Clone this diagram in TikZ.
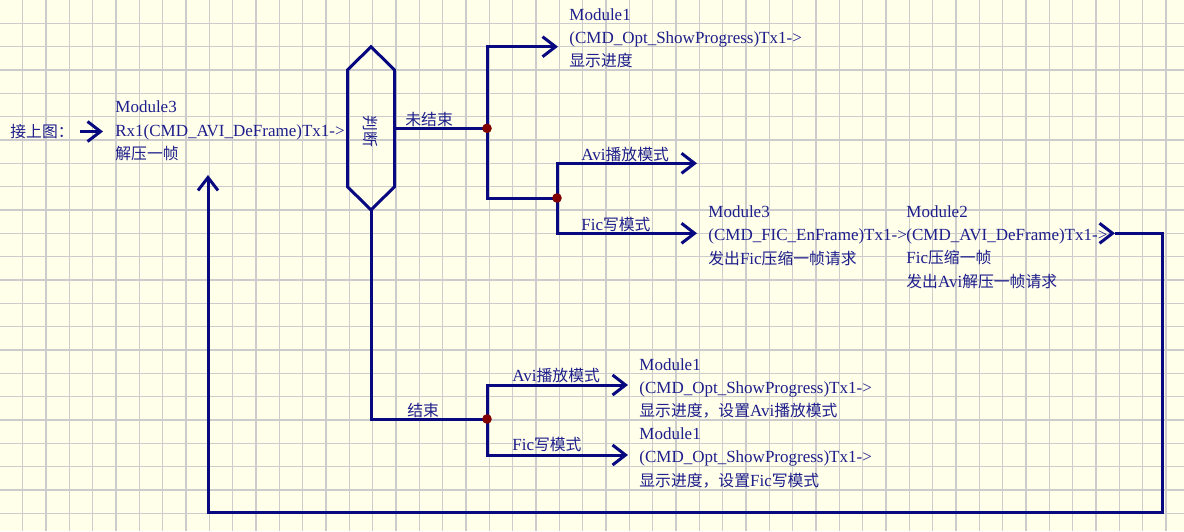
\documentclass[tikz,border=0pt]{standalone}
\usepackage{fontspec}
\setmainfont{Liberation Serif}
\newfontfamily\zhfont[Scale=0.93]{Noto Sans CJK SC}
\usetikzlibrary{positioning,arrows.meta}

\definecolor{paper}{RGB}{255,255,234}
\definecolor{gridgray}{RGB}{204,204,204}
\definecolor{wirecol}{RGB}{8,8,128}
\definecolor{ink}{RGB}{30,30,140}
\definecolor{junc}{RGB}{128,0,0}

\begin{document}
\begin{tikzpicture}[x=0.5pt,y=-0.5pt,
    every node/.style={inner sep=0pt,text=ink,font=\fontsize{8.5}{11.67}\selectfont},
    block/.style={align=left,anchor=base west},
    lbl/.style={anchor=west},
    wire/.style={draw=wirecol,line width=1.5pt},
    arr/.style={wire,-{Straight Barb[length=6.5pt,width=10pt]}},
    dot/.style={circle,fill=junc,minimum size=4.8pt}]
        \fill[paper] (0,0) rectangle (1184,531);
        \useasboundingbox (0,0) rectangle (1184,531);
        \foreach \i in {1,...,50}
            \draw[gridgray,line width=0.75pt] ({\i*23.333-0.6},0) -- ({\i*23.333-0.6},531);
        \foreach \j in {1,...,22}
            \draw[gridgray,line width=0.75pt] (0,{\j*23.333}) -- (1184,{\j*23.333});

        % text blocks (base = last line)
        \node[lbl] (prev) at (10,131.5) {\zhfont 接上图：};
        \node[block] (rx) at (115,159.4) {Module3\\Rx1(CMD\_AVI\_DeFrame)Tx1->\\{\zhfont 解压一帧}};
        \node[block] (show) at (569,66.7) {Module1\\(CMD\_Opt\_ShowProgress)Tx1->\\{\zhfont 显示进度}};
        \node[block] (enc) at (708,264) {Module3\\(CMD\_FIC\_EnFrame)Tx1->\\{\zhfont 发出}Fic{\zhfont 压缩一帧请求}};
        \node[block] (dec) at (906,287.3) {Module2\\(CMD\_AVI\_DeFrame)Tx1->\\Fic{\zhfont 压缩一帧}\\{\zhfont 发出}Avi{\zhfont 解压一帧请求}};
        \node[block] (setavi) at (639,416.7) {Module1\\(CMD\_Opt\_ShowProgress)Tx1->\\{\zhfont 显示进度，设置}Avi{\zhfont 播放模式}};
        \node[block] (setfic) at (639,486.2) {Module1\\(CMD\_Opt\_ShowProgress)Tx1->\\{\zhfont 显示进度，设置}Fic{\zhfont 写模式}};

        % decision
        \node[rotate=-90] (judge) at (370,131) {\zhfont 判断};
        \draw[wire] (371,46.7) -- (394.5,70) -- (394.5,186.7) -- (371,210)
            -- (347.5,186.7) -- (347.5,70) -- cycle;
        \coordinate (hexR) at (394.5,128.3);
        \coordinate (hexB) at (371,210);

        % branch labels
        \node[lbl] (notdone) at (405,119) {\zhfont 未结束};
        \node[lbl] (aviA) at (581,154.3) {Avi{\zhfont 播放模式}};
        \node[lbl] (ficA) at (581,224.3) {Fic{\zhfont 写模式}};
        \node[lbl] (done) at (407,410) {\zhfont 结束};
        \node[lbl] (aviB) at (512,375) {Avi{\zhfont 播放模式}};
        \node[lbl] (ficB) at (512,445) {Fic{\zhfont 写模式}};

        \coordinate (j1) at (487,128.3);
        \coordinate (j2) at (557,198);
        \coordinate (j3) at (487,419);
        \coordinate (prevA) at (80,131.5);
        \coordinate (prevB) at (103,131.5);
        \coordinate (toShow) at (558,46.7);
        \coordinate (toAvi) at (697,163.3);
        \coordinate (toFic) at (697,233.3);
        \coordinate (toSetAvi) at (628,385);
        \coordinate (toSetFic) at (628,455);
        \coordinate (retA) at (1115,233.3);
        \coordinate (loopNE) at (1162,233.3);
        \coordinate (loopSW) at (208,512);
        \coordinate (backIn) at (208,175);

        \draw[arr] (prevA) -- (prevB);
        \draw[wire] (hexR) -- (j1);
        \draw[arr] (j1) |- (toShow);
        \draw[wire] (j1) |- (j2);
        \draw[arr] (j2) |- (toAvi);
        \draw[arr] (j2) |- (toFic);
        \draw[wire] (hexB) |- (j3);
        \draw[arr] (j3) |- (toSetAvi);
        \draw[arr] (j3) |- (toSetFic);
        \draw[arr] ([xshift=-2pt]retA) -- (retA);
        \draw[arr] (retA) -- (loopNE) |- (loopSW) -- (backIn);

        \node[dot] (d1) at (j1) {};
        \node[dot] (d2) at (j2) {};
        \node[dot] (d3) at (j3) {};
    \end{tikzpicture}
\end{document}
